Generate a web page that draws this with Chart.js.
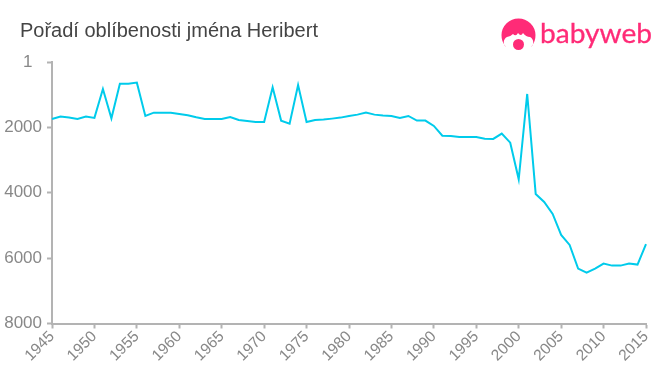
<!DOCTYPE html>
<html>
<head>
<meta charset="utf-8">
<title>Heribert</title>
<script src="https://cdn.jsdelivr.net/npm/chart.js@4"></script>
<style>
    html, body { margin: 0; padding: 0; background: #fff; }
    #wrap { position: relative; width: 660px; height: 375px; overflow: hidden; }
    #logo { position: absolute; left: 0; top: 0; }
</style>
</head>
<body>
<div id="wrap">
    <canvas id="chart" width="660" height="375"></canvas>
    <svg id="logo" width="660" height="65" xmlns="http://www.w3.org/2000/svg">
        <path fill="#ff2b77" d="M506 47 A17 17 0 1 1 531 47 A6 6 0 0 0 530 37 Q526 37 523 33 Q521 37 518 33 Q516 37 513 34 Q510 37 507 37 A6 6 0 0 0 506 47 Z"/>
        <circle cx="518.5" cy="44.5" r="5.5" fill="#ff2b77"/>
        <text x="540" y="43" fill="#ff2b77" stroke="#ff2b77" stroke-width="0.3" font-family="Lato" font-size="27" textLength="112" lengthAdjust="spacingAndGlyphs">babyweb</text>
    </svg>
</div>
<script>
const years = [1945, 1946, 1947, 1948, 1949, 1950, 1951, 1952, 1953, 1954, 1955, 1956, 1957, 1958, 1959, 1960, 1961, 1962, 1963, 1964, 1965, 1966, 1967, 1968, 1969, 1970, 1971, 1972, 1973, 1974, 1975, 1976, 1977, 1978, 1979, 1980, 1981, 1982, 1983, 1984, 1985, 1986, 1987, 1988, 1989, 1990, 1991, 1992, 1993, 1994, 1995, 1996, 1997, 1998, 1999, 2000, 2001, 2002, 2003, 2004, 2005, 2006, 2007, 2008, 2009, 2010, 2011, 2012, 2013, 2014, 2015];
const ranks = [1743, 1672, 1700, 1743, 1672, 1710, 826, 1722, 663, 663, 632, 1651, 1550, 1550, 1550, 1590, 1630, 1690, 1743, 1743, 1743, 1682, 1773, 1804, 1835, 1835, 775, 1794, 1886, 703, 1835, 1773, 1763, 1733, 1702, 1651, 1611, 1550, 1611, 1641, 1651, 1712, 1651, 1794, 1794, 1957, 2254, 2263, 2294, 2294, 2294, 2345, 2355, 2192, 2468, 3588, 979, 4037, 4281, 4648, 5290, 5596, 6320, 6443, 6320, 6167, 6229, 6229, 6167, 6198, 5575];
const xTicks = [1945, 1950, 1955, 1960, 1965, 1970, 1975, 1980, 1985, 1990, 1995, 2000, 2005, 2010, 2015];
const yTicks = [1, 2000, 4000, 6000, 8000];
const chartTitle = 'Pořadí oblíbenosti jména Heribert';

const axisColor = '#b3b3b3';
const labelColor = '#888888';
const fontFamily = "'Liberation Sans', Arial, sans-serif";

// title stays at x=20 while the y axis box starts at the left edge
const moveTitle = {
    id: 'moveTitle',
    afterLayout: (chart) => { chart.titleBlock.left = 20; }
};

new Chart(document.getElementById('chart'), {
    type: 'line',
    data: {
        labels: years,
        datasets: [{
            data: ranks,
            borderColor: '#00cbeb',
            borderWidth: 2,
            pointRadius: 0,
            tension: 0,
            fill: false
        }]
    },
    plugins: [moveTitle],
    options: {
        responsive: false,
        animation: false,
        layout: { padding: { left: 0, right: 14, top: 0, bottom: 0 } },
        plugins: {
            legend: { display: false },
            tooltip: { enabled: false },
            title: {
                display: true,
                text: chartTitle,
                align: 'start',
                color: '#444444',
                font: { family: fontFamily, size: 20, weight: 'normal', lineHeight: 1.2 },
                padding: { top: 19, bottom: 19 }
            }
        },
        scales: {
            x: {
                type: 'category',
                offset: false,
                afterFit: (scale) => { scale.height = 51.5; },
                border: { color: axisColor, width: 2 },
                grid: { drawOnChartArea: false, color: axisColor, tickLength: 5, tickWidth: 2 },
                ticks: {
                    autoSkip: false,
                    minRotation: 45,
                    maxRotation: 45,
                    padding: -1,
                    color: labelColor,
                    font: { family: fontFamily, size: 15.5 },
                    callback: function (value) {
                        const year = this.getLabelForValue(value);
                        return xTicks.includes(year) ? String(year) : null;
                    }
                }
            },
            y: {
                reverse: true,
                min: 1,
                max: 8000,
                afterFit: (scale) => { scale.width = 52; },
                afterBuildTicks: (scale) => { scale.ticks = yTicks.map(v => ({ value: v })); },
                border: { color: axisColor, width: 2 },
                grid: { drawOnChartArea: false, color: axisColor, tickLength: 5, tickWidth: 2 },
                ticks: {
                    padding: 5,
                    color: labelColor,
                    font: { family: fontFamily, size: 17 },
                    // the top label sits further left than the others in the original
                    callback: (value) => (value === 1 ? '1  ' : String(value))
                }
            }
        }
    }
});
</script>
</body>
</html>
